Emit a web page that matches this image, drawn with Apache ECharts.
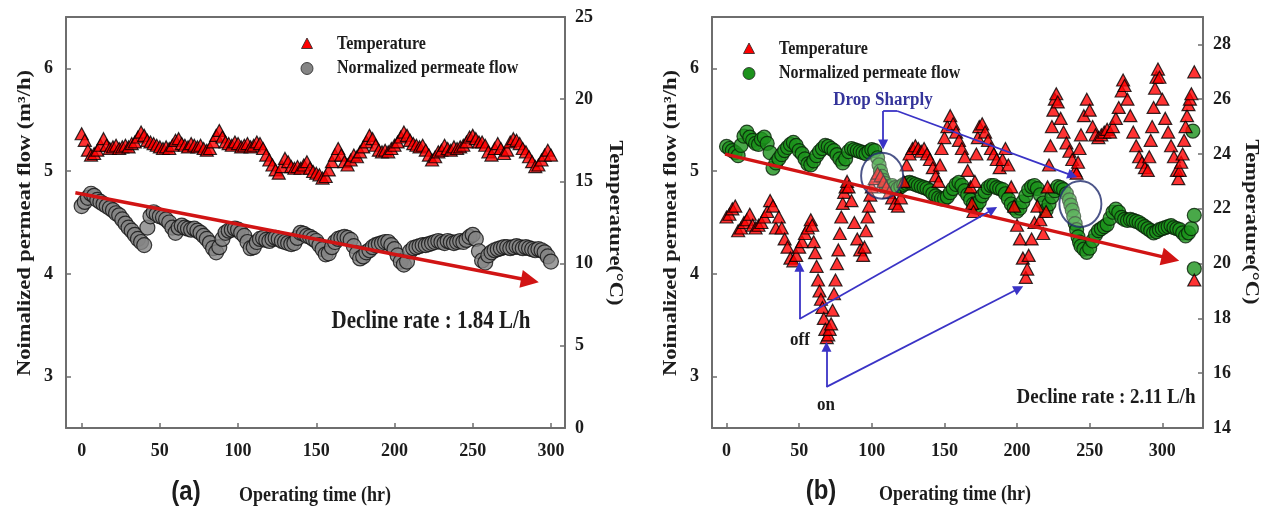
<!DOCTYPE html>
<html><head><meta charset="utf-8">
<script src="https://cdn.jsdelivr.net/npm/echarts@6/dist/echarts.min.js"></script>
<style>html,body{margin:0;padding:0;background:#fff}#c{width:1274px;height:512px}</style>
</head><body><div id="c"></div>
<script>
// ---------- tick labels ----------
const xTicks = [0, 50, 100, 150, 200, 250, 300];
const flowTicks = [3, 4, 5, 6];
const tempTicksA = [0, 5, 10, 15, 20, 25];
const tempTicksB = [14, 16, 18, 20, 22, 24, 26, 28];

// ---------- panel (a): [hour, value] ----------
const tempA = [[0,17.9],[2,17.5],[4,16.9],[6,16.6],[8,16.7],[10,16.9],[12,17.2],[14,17.6],[16,17.2],[18,17.0],[20,17.1],[22,17.2],[24,17.0],[26,17.1],[28,17.2],[30,17.1],[32,17.3],[34,17.4],[36,17.7],[38,18.0],[40,17.8],[42,17.5],[44,17.4],[46,17.3],[48,17.2],[50,17.1],[52,17.0],[54,17.1],[56,17.0],[58,17.2],[60,17.5],[62,17.6],[64,17.3],[66,17.2],[68,17.1],[70,17.3],[72,17.2],[74,17.1],[76,17.2],[78,17.0],[80,16.9],[82,17.0],[84,17.4],[86,17.8],[88,18.1],[90,17.7],[92,17.4],[94,17.3],[96,17.2],[98,17.4],[100,17.3],[102,17.1],[104,17.2],[106,17.3],[108,17.1],[110,17.2],[112,17.4],[114,17.3],[116,17.0],[118,16.6],[120,16.3],[122,16.0],[124,15.7],[126,15.5],[128,15.9],[130,16.4],[132,16.2],[134,15.9],[136,15.8],[138,15.9],[140,15.8],[142,16.0],[144,16.2],[146,15.8],[148,15.6],[150,15.5],[152,15.4],[154,15.2],[156,15.3],[158,15.7],[160,16.2],[162,16.6],[164,17.0],[166,16.6],[168,16.2],[170,16.0],[172,16.3],[174,16.6],[176,16.5],[178,16.8],[180,17.1],[182,17.4],[184,17.8],[186,17.6],[188,17.2],[190,16.9],[192,16.8],[194,16.9],[196,16.8],[198,17.0],[200,17.2],[202,17.4],[204,17.7],[206,18.0],[208,17.8],[210,17.5],[212,17.3],[214,17.2],[216,17.1],[218,17.2],[220,16.9],[222,16.6],[224,16.3],[226,16.5],[228,16.8],[230,16.9],[232,17.2],[234,17.0],[236,16.9],[238,17.1],[240,17.0],[242,17.1],[244,17.2],[246,17.4],[248,17.7],[250,17.8],[252,17.6],[254,17.4],[256,17.4],[258,17.2],[260,16.8],[262,16.6],[264,17.0],[266,17.3],[268,17.0],[270,16.7],[272,16.9],[274,17.4],[276,17.6],[278,17.5],[280,17.3],[282,17.0],[284,16.8],[286,16.5],[288,16.2],[290,15.9],[292,16.0],[294,16.3],[296,16.6],[298,16.9],[300,16.6]];

const flowA = [[0,4.66],[2,4.70],[4,4.74],[6,4.78],[8,4.76],[10,4.72],[12,4.70],[14,4.68],[16,4.66],[18,4.64],[20,4.62],[22,4.59],[24,4.57],[26,4.53],[28,4.49],[30,4.45],[32,4.42],[34,4.38],[36,4.34],[38,4.31],[40,4.28],[42,4.45],[44,4.56],[46,4.60],[48,4.58],[50,4.56],[52,4.55],[54,4.53],[56,4.50],[58,4.45],[60,4.40],[62,4.45],[64,4.47],[66,4.45],[68,4.44],[70,4.43],[72,4.44],[74,4.42],[76,4.40],[78,4.37],[80,4.34],[82,4.30],[84,4.25],[86,4.21],[88,4.26],[90,4.34],[92,4.40],[94,4.42],[96,4.43],[98,4.44],[100,4.43],[102,4.40],[104,4.37],[106,4.31],[108,4.25],[110,4.26],[112,4.31],[114,4.34],[116,4.35],[118,4.33],[120,4.32],[122,4.34],[124,4.35],[126,4.34],[128,4.32],[130,4.31],[132,4.30],[134,4.29],[136,4.30],[138,4.35],[140,4.40],[142,4.39],[144,4.37],[146,4.36],[148,4.34],[150,4.32],[152,4.28],[154,4.24],[156,4.19],[158,4.20],[160,4.26],[162,4.31],[164,4.34],[166,4.35],[168,4.36],[170,4.35],[172,4.33],[174,4.27],[176,4.20],[178,4.15],[180,4.17],[182,4.21],[184,4.23],[186,4.26],[188,4.28],[190,4.29],[192,4.30],[194,4.31],[196,4.31],[198,4.28],[200,4.24],[202,4.18],[204,4.12],[206,4.09],[208,4.12],[210,4.22],[212,4.25],[214,4.26],[216,4.27],[218,4.28],[220,4.28],[222,4.29],[224,4.30],[226,4.31],[228,4.32],[230,4.31],[232,4.30],[234,4.32],[236,4.31],[238,4.30],[240,4.31],[242,4.32],[244,4.31],[246,4.33],[248,4.36],[250,4.38],[252,4.34],[254,4.22],[256,4.13],[258,4.11],[260,4.18],[262,4.21],[264,4.23],[266,4.24],[268,4.25],[270,4.26],[272,4.26],[274,4.25],[276,4.26],[278,4.27],[280,4.26],[282,4.25],[284,4.26],[286,4.25],[288,4.24],[290,4.23],[292,4.24],[294,4.23],[296,4.21],[298,4.17],[300,4.12]];

// ---------- panel (b): [hour, value] ----------
const tempB = [[0,21.7],[2,21.8],[4,22.0],[6,22.1],[8,21.2],[10,21.3],[12,21.5],[14,21.6],[16,21.8],[18,21.4],[20,21.3],[22,21.4],[24,21.5],[26,21.7],[28,21.9],[30,22.3],[32,22.1],[34,21.3],[36,21.7],[38,21.3],[40,20.9],[42,20.6],[44,20.2],[46,20.1],[48,20.3],[50,20.6],[52,20.8],[54,21.1],[56,21.3],[58,21.6],[59,21.4],[60,20.8],[61,20.4],[62,19.9],[63,19.4],[64,19.0],[65,18.7],[66,18.4],[67,18.0],[68,17.6],[69,17.3],[70,17.4],[71,17.6],[72,17.8],[73,18.3],[74,18.9],[75,19.4],[76,20.0],[77,20.5],[78,21.1],[79,21.7],[80,22.2],[81,22.6],[82,22.8],[83,23.0],[84,22.8],[86,22.3],[88,21.5],[90,20.9],[92,20.5],[94,20.3],[95,20.6],[96,21.2],[97,21.7],[98,22.1],[99,22.5],[100,22.8],[102,23.1],[104,23.3],[106,23.2],[108,23.0],[110,22.8],[112,22.6],[114,22.4],[116,22.2],[118,22.1],[120,22.4],[122,23.0],[124,23.6],[126,24.0],[128,24.2],[130,24.3],[132,24.2],[134,24.1],[136,24.2],[138,24.0],[140,23.8],[142,23.5],[144,23.2],[146,23.0],[147,23.6],[148,24.2],[150,24.6],[152,25.0],[154,25.4],[156,25.1],[158,24.8],[160,24.5],[162,24.2],[164,23.9],[166,23.4],[168,22.8],[169,22.2],[170,21.9],[171,23.0],[172,24.0],[173,24.6],[174,25.0],[176,25.1],[178,24.8],[180,24.5],[182,24.2],[184,24.0],[186,23.8],[188,23.5],[190,23.8],[192,24.2],[194,23.6],[196,22.8],[198,22.1],[200,21.4],[202,20.9],[204,20.2],[206,19.5],[207,19.8],[208,20.3],[210,20.9],[212,21.5],[214,22.1],[216,21.6],[218,21.1],[220,21.9],[221,22.8],[222,23.6],[223,24.3],[224,25.0],[225,25.6],[226,26.0],[227,26.2],[228,25.9],[230,25.3],[232,24.8],[234,24.4],[236,24.1],[238,23.8],[240,23.4],[241,23.3],[242,23.7],[243,24.2],[244,24.7],[246,25.4],[248,26.0],[250,25.6],[252,25.0],[254,24.7],[256,24.6],[258,24.7],[260,24.8],[262,24.9],[264,24.8],[266,25.0],[268,25.3],[270,25.7],[272,26.3],[273,26.7],[274,26.5],[276,26.0],[278,25.4],[280,24.8],[282,24.3],[284,23.9],[286,23.7],[288,23.5],[290,23.4],[291,23.9],[292,24.5],[293,25.0],[294,25.7],[295,26.4],[296,26.8],[297,27.1],[298,26.8],[300,26.0],[302,25.3],[304,24.8],[306,24.3],[308,23.9],[310,23.4],[311,23.1],[312,23.4],[313,23.7],[314,24.0],[315,24.5],[316,25.0],[317,25.4],[318,25.8],[319,26.0],[320,26.2],[322,27.0],[322,19.4]];

const flowB = [[0,5.24],[2,5.22],[4,5.20],[6,5.18],[8,5.15],[10,5.25],[12,5.34],[14,5.38],[16,5.33],[18,5.30],[20,5.27],[22,5.26],[24,5.31],[26,5.33],[28,5.27],[30,5.18],[32,5.03],[34,5.08],[36,5.12],[38,5.16],[40,5.20],[42,5.23],[44,5.26],[46,5.28],[48,5.25],[50,5.20],[52,5.17],[54,5.12],[56,5.07],[58,5.06],[60,5.10],[62,5.15],[64,5.19],[66,5.22],[68,5.25],[70,5.24],[72,5.22],[74,5.20],[76,5.16],[78,5.12],[80,5.08],[82,5.12],[84,5.19],[86,5.22],[88,5.21],[90,5.20],[92,5.19],[94,5.18],[96,5.17],[98,5.19],[100,5.21],[102,5.20],[104,5.13],[105,5.06],[106,5.00],[107,4.95],[108,4.91],[109,4.88],[110,4.85],[112,4.84],[114,4.86],[116,4.84],[118,4.83],[120,4.85],[122,4.87],[124,4.88],[126,4.89],[128,4.88],[130,4.87],[132,4.86],[134,4.85],[136,4.84],[138,4.83],[140,4.81],[142,4.78],[144,4.76],[146,4.74],[148,4.73],[150,4.73],[152,4.75],[154,4.79],[156,4.83],[158,4.87],[160,4.89],[162,4.86],[164,4.81],[166,4.77],[168,4.72],[170,4.68],[172,4.66],[174,4.70],[176,4.76],[178,4.80],[180,4.84],[182,4.86],[184,4.86],[186,4.84],[188,4.83],[190,4.82],[192,4.78],[194,4.73],[196,4.68],[198,4.64],[200,4.61],[202,4.64],[204,4.70],[206,4.76],[208,4.82],[210,4.85],[212,4.86],[214,4.83],[216,4.77],[218,4.69],[220,4.62],[222,4.68],[224,4.75],[226,4.81],[228,4.85],[230,4.84],[232,4.82],[234,4.78],[236,4.72],[237,4.67],[238,4.62],[239,4.56],[240,4.49],[241,4.43],[242,4.36],[243,4.31],[244,4.27],[246,4.24],[248,4.21],[250,4.25],[252,4.32],[254,4.38],[256,4.42],[258,4.44],[260,4.46],[262,4.48],[264,4.54],[266,4.60],[268,4.63],[270,4.60],[272,4.55],[274,4.53],[276,4.52],[278,4.53],[280,4.52],[282,4.51],[284,4.50],[286,4.48],[288,4.46],[290,4.44],[292,4.42],[294,4.40],[296,4.41],[298,4.43],[300,4.44],[302,4.45],[304,4.46],[306,4.47],[308,4.45],[310,4.44],[312,4.43],[314,4.40],[316,4.37],[318,4.40],[320,4.44],[322,4.57],[321,5.39],[322,4.05]];

// ---------- annotations (data units: [hour, flow]) ----------
const trendA = [[-4, 4.79], [286.6, 3.935]];
const trendB = [[-1, 5.165], [305.6, 4.148]];
const dropBracket = [[107.8, 5.585], [107.8, 5.26], [117.5, 5.585], [238.2, 4.957]];
const offArrows = [[50.2, 3.56], [50.2, 4.07], [183.3, 4.626]];
const onArrows = [[68.8, 2.90], [68.8, 3.29], [201.2, 3.858]];
const dropCircles = [[107.1, 4.955], [243.6, 4.68]];

const SERIF = '"Liberation Serif","Times New Roman",serif';
const TXT = '#1c1c1c';
const AXC = '#6e6e6e';
const RED_ARROW = '#d11414';
const BLUE = '#3a33c6';

function xAx(grid, max, bottom) {
  return {
    gridIndex: grid, type: 'value', min: -10, max: max, position: bottom ? 'bottom' : 'top',
    axisLine: { show: true, onZero: false, lineStyle: { color: AXC, width: 2 } },
    axisTick: { show: bottom, inside: true, length: 5, customValues: xTicks, lineStyle: { color: AXC, width: 1.5 } },
    axisLabel: { show: bottom, customValues: xTicks, margin: 14, color: TXT, fontFamily: SERIF, fontWeight: 'bold', fontSize: 18 },
    splitLine: { show: false }
  };
}
function yAx(grid, min, max, ticks, pos, margin) {
  return {
    gridIndex: grid, type: 'value', min: min, max: max, position: pos,
    axisLine: { show: true, onZero: false, lineStyle: { color: AXC, width: 2 } },
    axisTick: { show: true, inside: true, length: 5, customValues: ticks, lineStyle: { color: AXC, width: 1.5 } },
    axisLabel: { customValues: ticks, margin: margin, color: TXT, fontFamily: SERIF, fontWeight: 'bold', fontSize: 18 },
    splitLine: { show: false }
  };
}
function seg(a, b, arrow, color, width, size) {
  return [
    { coord: a, symbol: 'none' },
    { coord: b, symbol: arrow ? 'triangle' : 'none', symbolSize: size, lineStyle: { color: color, width: width } }
  ];
}
const tri = { symbol: 'triangle', symbolSize: [13, 12], itemStyle: { color: '#ff0000', borderColor: '#000', borderWidth: 1.2 } };

const chart = echarts.init(document.getElementById('c'));
const option = {
  animation: false,
  backgroundColor: '#fff',
  grid: [
    { left: 66, top: 17, width: 499, height: 411 },
    { left: 712, top: 17, width: 491, height: 411 }
  ],
  xAxis: [xAx(0, 309, true), xAx(0, 309, false), xAx(1, 328, true), xAx(1, 328, false)],
  yAxis: [
    yAx(0, 2.5, 6.5, flowTicks, 'left', 13),
    yAx(0, 0, 25, tempTicksA, 'right', 10),
    yAx(1, 2.5, 6.5, flowTicks, 'left', 13),
    yAx(1, 14, 29, tempTicksB, 'right', 10)
  ],
  series: [
    { name: 'Normalized permeate flow', type: 'scatter', xAxisIndex: 0, yAxisIndex: 0, data: flowA, z: 2,
      symbol: 'circle', symbolSize: 15, itemStyle: { color: '#858585', borderColor: '#111', borderWidth: 1.2 },
      markLine: { silent: true, animation: false, label: { show: false }, emphasis: { disabled: true }, symbol: ['none', 'triangle'],
        lineStyle: { color: RED_ARROW, width: 3.5, type: 'solid' },
        data: [seg(trendA[0], trendA[1], true, RED_ARROW, 3.5, 18)] } },
    Object.assign({ name: 'Temperature', type: 'scatter', xAxisIndex: 0, yAxisIndex: 1, data: tempA, z: 3 }, tri),

    { name: 'Normalized permeate flow', type: 'scatter', xAxisIndex: 2, yAxisIndex: 2, data: flowB, z: 2,
      symbol: 'circle', symbolSize: 14, itemStyle: { color: '#1c921c', borderColor: '#082008', borderWidth: 1.2 } },
    Object.assign({ name: 'Temperature', type: 'scatter', xAxisIndex: 2, yAxisIndex: 3, data: tempB, z: 3 }, tri),
    { name: 'circles', type: 'scatter', xAxisIndex: 2, yAxisIndex: 2, data: dropCircles, z: 4, silent: true,
      symbol: 'circle', symbolSize: [42, 46],
      itemStyle: { color: 'rgba(255,255,255,0.35)', borderColor: '#1f2a6b', borderWidth: 2 },
      markLine: { silent: true, animation: false, label: { show: false }, emphasis: { disabled: true }, symbol: ['none', 'triangle'],
        lineStyle: { color: BLUE, width: 1.8, type: 'solid' },
        data: [
          seg(trendB[0], trendB[1], true, RED_ARROW, 3.5, 18),
          seg(dropBracket[0], dropBracket[1], true, BLUE, 1.8, 10),
          seg(dropBracket[0], dropBracket[2], false, BLUE, 1.8, 10),
          seg(dropBracket[2], dropBracket[3], true, BLUE, 1.8, 10),
          seg(offArrows[0], offArrows[1], true, BLUE, 1.8, 10),
          seg(offArrows[0], offArrows[2], true, BLUE, 1.8, 10),
          seg(onArrows[0], onArrows[1], true, BLUE, 1.8, 10),
          seg(onArrows[0], onArrows[2], true, BLUE, 1.8, 10)
        ] } }
  ]
};

function txt(text, x, y, o) {
  o = o || {};
  return { type: 'text', x: x, y: y, rotation: o.rot || 0, scaleX: o.sx || 1, scaleY: o.sy || 1, silent: true, z: 100,
    style: { text: text, font: o.font || ('bold 18px ' + SERIF), fill: o.fill || TXT,
      textAlign: o.align || 'center', textVerticalAlign: 'middle' } };
}
const legendFont = 'bold 16px ' + SERIF;
function legend(x, y, circleColor) {
  return [
    { type: 'polygon', silent: true, z: 100, shape: { points: [[x, y - 6], [x + 5.5, y + 4.5], [x - 5.5, y + 4.5]] },
      style: { fill: '#ff0000', stroke: '#222', lineWidth: 0.8 } },
    { type: 'circle', silent: true, z: 100, shape: { cx: x, cy: y + 24.5, r: 6 }, style: { fill: circleColor, stroke: '#222', lineWidth: 0.8 } },
    txt('Temperature', x + 30, y, { font: legendFont, align: 'left', sy: 1.2 }),
    txt('Normalized permeate flow', x + 30, y + 24.5, { font: legendFont, align: 'left', sy: 1.2 })
  ];
}
option.graphic = [].concat(
  legend(307, 44, '#858585'),
  legend(749, 49, '#1c921c'),
  [
    txt('Noimalized permeat flow (m³/h)', 25, 223, { rot: Math.PI / 2, sx: 1.25 }),
    txt('Temperature(°C)', 615, 223, { rot: -Math.PI / 2, sx: 1.25 }),
    txt('Noimalized permeat flow (m³/h)', 671, 223, { rot: Math.PI / 2, sx: 1.25 }),
    txt('Temperature(°C)', 1251, 222, { rot: -Math.PI / 2, sx: 1.25 }),
    txt('Operating time (hr)', 315, 495, { sy: 1.2 }),
    txt('Operating time (hr)', 955, 494, { sy: 1.2 }),
    txt('(a)', 186, 492, { font: 'bold 24px "Liberation Sans",Arial,sans-serif', sy: 1.15 }),
    txt('(b)', 821, 491, { font: 'bold 24px "Liberation Sans",Arial,sans-serif', sy: 1.15 }),
    txt('Decline rate : 1.84 L/h', 431, 322, { font: 'bold 21px ' + SERIF, sy: 1.15 }),
    txt('Decline rate : 2.11 L/h', 1106, 397, { font: 'bold 19px ' + SERIF, sy: 1.15 }),
    txt('Drop Sharply', 883, 100, { font: 'bold 17px ' + SERIF, fill: '#34349a', sy: 1.15 }),
    txt('off', 800, 340, { font: 'bold 17px ' + SERIF, sy: 1.15 }),
    txt('on', 826, 405, { font: 'bold 17px ' + SERIF, sy: 1.15 })
  ]
);
chart.setOption(option);
</script>
</body></html>
